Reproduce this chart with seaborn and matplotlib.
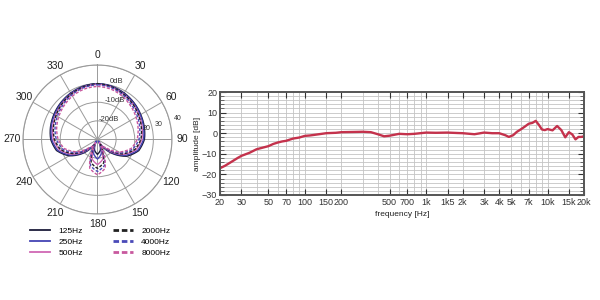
import numpy as np
import pandas as pd
import matplotlib
matplotlib.use("Agg")
import matplotlib.pyplot as plt
from matplotlib.lines import Line2D
import seaborn as sns

plt.rcParams['font.family'] = ['Liberation Sans', 'DejaVu Sans']

# ---------------- polar data (dB, angles 0..345 step 15) ----------------
angles_deg = [0, 15, 30, 45, 60, 75, 90, 105, 120, 135, 150, 165,
              180, 195, 210, 225, 240, 255, 270, 285, 300, 315, 330, 345]
pol_125 = [0, -0.4, -1.2, -2.2, -3.2, -4.0, -4.8, -7.0, -12, -20, -28, -24,
           -22, -24, -28, -20, -12.5, -7.2, -4.9, -3.9, -3.0, -2.1, -1.2, -0.4]
pol_250 = [0, -0.5, -1.5, -2.5, -3.5, -4.4, -5.3, -7.6, -13, -21, -29, -22,
           -19.5, -22, -29, -21, -13.3, -7.8, -5.4, -4.3, -3.4, -2.4, -1.4, -0.5]
pol_500 = [-0.3, -0.9, -2.0, -3.1, -4.2, -5.2, -6.2, -8.6, -14, -22, -28, -19,
           -16.5, -19, -28, -22, -14.2, -8.8, -6.3, -5.1, -4.1, -3.0, -1.9, -0.9]
pol_2000 = [0, -0.7, -1.9, -3.1, -4.4, -5.6, -6.7, -9.2, -14.5, -22.5, -27, -17,
            -14.5, -17, -27, -22.5, -14.8, -9.4, -6.9, -5.5, -4.3, -3.0, -1.8, -0.7]
pol_4000 = [-0.6, -1.2, -2.5, -3.9, -5.2, -6.5, -7.7, -10.3, -15.5, -23, -26, -15.5,
            -12.8, -15.5, -26, -23, -15.8, -10.5, -7.9, -6.4, -5.1, -3.8, -2.4, -1.2]
pol_8000 = [-1.5, -2.0, -3.2, -4.7, -6.1, -7.4, -8.7, -11.3, -16.5, -24, -26, -14,
            -11, -14, -26, -24, -16.8, -11.5, -8.9, -7.3, -5.9, -4.5, -3.1, -2.0]

pol_labels = ['125Hz', '250Hz', '500Hz', '2000Hz', '4000Hz', '8000Hz']
pol_values = [pol_125, pol_250, pol_500, pol_2000, pol_4000, pol_8000]
pol_colors = ['#1c1c3a', '#4444b4', '#d068b4', '#222222', '#4a4ab8', '#c8589e']
pol_solid = [True, True, True, False, False, False]

# ---------------- frequency response data ----------------
freq = [20, 22, 25, 28, 30, 35, 40, 45, 50, 55, 60, 65, 70, 80, 90, 100, 110, 120,
        150, 180, 200, 250, 300, 350, 400, 450, 500, 600, 700, 800, 1000, 1200,
        1500, 1800, 2000, 2500, 3000, 3500, 4000, 4500, 4800, 5200, 5600, 6000,
        6500, 7000, 7500, 8000, 8500, 9000, 9500, 10000, 11000, 12000, 13000,
        14000, 15000, 16000, 17000, 18000, 19000, 20000]
amp = [-17, -15.8, -13.8, -12, -11, -9.5, -7.8, -7, -6.3, -5.2, -4.5, -4, -3.7,
       -2.6, -2.1, -1.3, -1.1, -0.8, 0, 0.2, 0.5, 0.6, 0.7, 0.5, -0.5, -1.5,
       -1.2, -0.3, -0.5, -0.3, 0.3, 0.2, 0.3, 0.1, 0, -0.5, 0.3, 0, 0, -1,
       -1.8, -1, 0.7, 1.8, 3.2, 4.6, 5, 6, 4, 1.8, 1.5, 2.0, 1.4, 3.5, 1.5,
       -2, 0.5, -0.6, -3, -1.8, -1.8, -1.5]

xtick_vals = [20, 30, 50, 70, 100, 150, 200, 500, 700, 1000, 1500, 2000, 3000,
              4000, 5000, 7000, 10000, 15000, 20000]
xtick_labels = ['20', '30', '50', '70', '100', '150', '200', '500', '700', '1k',
                '1k5', '2k', '3k', '4k', '5k', '7k', '10k', '15k', '20k']
ytick_vals = [-30, -20, -10, 0, 10, 20]

fig = plt.figure(figsize=(6, 3), dpi=100)

# ---------------- polar plot ----------------
axp = fig.add_axes([0.0383, 0.2867, 0.2483, 0.4967], projection='polar')
axp.set_theta_zero_location('N')
axp.set_theta_direction(-1)

rows = []
for lab, vals in zip(pol_labels, pol_values):
    th = list(np.deg2rad(angles_deg)) + [2 * np.pi]
    vv = list(vals) + [vals[0]]
    for t, v in zip(th, vv):
        rows.append({'theta': t, 'db': v, 'freq': lab})
dfp = pd.DataFrame(rows)
dash_map = {lab: ((1, 0) if s else (2.2, 1.2)) for lab, s in zip(pol_labels, pol_solid)}
sns.lineplot(data=dfp, x='theta', y='db', hue='freq', style='freq',
             palette=dict(zip(pol_labels, pol_colors)), dashes=dash_map,
             estimator=None, sort=False, legend=False, lw=1.0, ax=axp)
for ln in axp.lines:
    ln.get_path()._interpolation_steps = 16
axp.set_xlabel('')
axp.set_ylabel('')
axp.set_ylim(-30, 10)
axp.set_yticks([-20, -10, 0, 10])
axp.set_yticklabels([])
axp.set_xticks(np.deg2rad(np.arange(0, 360, 30)))
axp.set_xticklabels([str(a) for a in range(0, 360, 30)], fontsize=7.5, color='#222222')
axp.tick_params(axis='x', pad=-3)
axp.grid(True, color='#9a9a9a', lw=0.7)
axp.spines['polar'].set_color('#9a9a9a')
axp.spines['polar'].set_linewidth(0.8)
for txt, ang, rr in [('0dB', 18, 2.8), ('-10dB', 24, -7.2), ('-20dB', 29, -17.5)]:
    axp.text(np.deg2rad(ang), rr, txt, fontsize=5.5, color='#333333', ha='center', va='center')
for txt, ang, rr in [('20', 77.7, -3.0), ('30', 76.6, 4.0), ('40', 75, 14.5)]:
    axp.text(np.deg2rad(ang), rr, txt, fontsize=5, color='#333333', ha='center',
             va='center', clip_on=False)

handles = [Line2D([0], [0], color=c, lw=1.3 if s else 2.0,
                  linestyle='-' if s else (0, (2.0, 1.0)))
           for c, s in zip(pol_colors, pol_solid)]
fig.legend(handles, pol_labels, loc='upper left', bbox_to_anchor=(0.05, 0.243),
           ncol=2, frameon=False, fontsize=6, handlelength=2.4, handletextpad=1.0,
           columnspacing=3.6, labelspacing=0.38, borderpad=0, borderaxespad=0)

# ---------------- frequency response ----------------
ax = fig.add_axes([0.3667, 0.35, 0.6067, 0.3433])
sns.lineplot(x=freq, y=amp, color='#c4324c', lw=1.7, ax=ax)
ax.set_xscale('log')
ax.set_xlim(20, 20000)
ax.set_ylim(-30, 20)

grid_x = []
for dec in [10, 100, 1000, 10000]:
    for m in range(1, 10):
        v = m * dec
        if 20 <= v <= 20000:
            grid_x.append(v)
grid_x += [150, 1500, 15000]
for gx in grid_x:
    ax.axvline(gx, color='#c4c4c4', lw=0.6, zorder=0)
for gy in range(-28, 20, 2):
    ax.axhline(gy, color='#c4c4c4', lw=0.6, zorder=0)

ax.set_xticks(xtick_vals)
ax.set_xticklabels(xtick_labels)
ax.xaxis.set_minor_locator(matplotlib.ticker.NullLocator())
ax.set_yticks(ytick_vals)
ax.set_yticks(list(range(-30, 21, 2)), minor=True)
ax.tick_params(axis='both', which='major', labelsize=6.5, colors='#333333',
               direction='in', length=4, width=0.8, top=True, right=True, pad=2)
ax.tick_params(axis='y', which='minor', direction='in', length=3, width=0.6,
               right=True, left=True, colors='#555555')
ax.tick_params(axis='x', which='major', top=True, bottom=True)
for s in ax.spines.values():
    s.set_color('#555555')
    s.set_linewidth(1.4)
ax.set_xlabel('frequency [Hz]', fontsize=6, color='#222222', labelpad=3)
ax.set_ylabel('amplitude [dB]', fontsize=6, color='#222222')
ax.yaxis.set_label_coords(-0.052, 0.5)

fig.savefig('out.png', dpi=100)
